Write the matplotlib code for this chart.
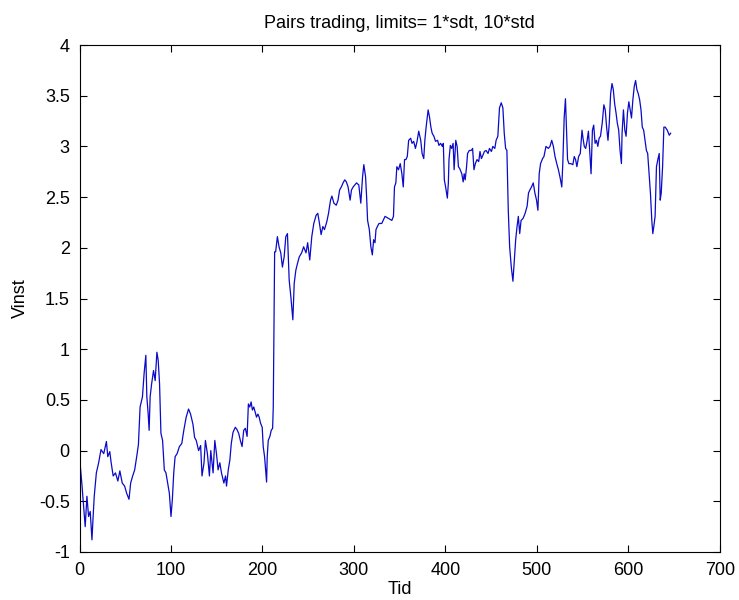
import matplotlib
matplotlib.use("Agg")
import matplotlib.pyplot as plt
from matplotlib.ticker import FormatStrFormatter

plt.rcParams['font.family'] = ['Liberation Sans', 'DejaVu Sans']
plt.rcParams['axes.unicode_minus'] = False

# values (Tid, Vinst)
tid = [0, 2.5, 6.2, 8.1, 9.9, 11.7, 13.6, 14.7, 16.1, 18.4, 20.9, 23.5, 26.5, 29.4, 30.9,
       33.1, 34.6, 36.8, 39.3, 41.9, 44.1, 46.7, 49.3, 51.5, 54.1, 55.9, 58.1, 60.3, 62.5,
       64.4, 66.2, 68.8, 70.6, 72.5, 73.6, 75, 76.1, 77.2, 78.7, 80.9, 82.7, 84.6, 86, 87.5,
       89, 90.8, 92.7, 94.5, 96.4, 98.2, 100, 101.5, 103, 104.5, 106.7, 109.2, 111.8, 114,
       116.6, 119.2, 121.4, 124, 125.8, 127.6, 130.2, 132.4, 133.9, 136.1, 137.6, 139.8, 142,
       143.5, 146, 147.9, 149.7, 151.5, 153.4, 155.2, 157.8, 159.6, 160.7, 162.6, 164.4,
       165.9, 167.8, 170.3, 172, 174, 175.8, 177.7, 179.5, 181.3, 183.2, 184.6, 186.1, 187.6,
       189, 190.5, 192, 193.5, 195, 196.4, 197.9, 199.7, 200.8, 202.3, 203.4, 204.5, 205.2,
       206.3, 208.1, 209.6, 211.1, 211.8, 212.6, 213.3,
       214.4, 216.3, 218.1, 220, 221.8, 223.7, 225.5, 227.3, 229.2, 231, 233.2, 234.7, 236.5,
       238.4, 240.2, 242.8, 245, 247.6, 249.4, 251.7, 253.9, 256.1, 258.6, 260.5, 262.3,
       264.1, 266, 267.8, 270.4, 272.2, 274.4, 275.9, 278.1, 280.7, 282.6, 284.3, 286.2,
       288.1, 289.9, 291.7, 293.6, 295.8, 297.3, 299.1, 300.9, 302.8, 305.3, 307.5, 309.4,
       310.8, 312.7, 313.8, 314.9, 316.8, 318.5, 320.1, 321.5, 323, 324.1, 325.6, 327.4,
       330.4, 334, 337.7, 341.4, 343.2, 344.3, 345.8, 346.9, 348.7, 350.6, 352.4, 353.9,
       355.3, 356.8, 358.3, 359.8, 362, 363.5, 365.3, 367.2, 369, 370.8, 373, 374.5, 376.3,
       377.5, 378.9, 381.1, 382.6, 384.1, 385.5, 387.4, 389.2, 391.4, 392.9, 394.7, 396.6,
       397.7, 398.8, 400.2, 402.1, 403.2, 403.9, 405.4, 406.9, 408.4, 409.5, 411.3, 412.8,
       414.2, 415.7, 417.9, 419.4, 420.5, 421.6, 423.1, 424.2, 426.1, 428.3, 429.7, 431.2,
       432.7, 434.5, 436.4, 437.8, 439.3, 440.8, 442.6, 444.4, 446.6, 448.1, 450.3, 451.8,
       454, 455.4, 457.3, 459.1, 461, 462.8, 464.3, 465.8, 467.2, 468.7, 470.2, 472, 473.8,
       475.3, 476.8, 478.3, 479.7, 481.2, 482.7, 484.9, 487.1, 489.3, 490.8, 492.3, 494.1,
       496, 497.8, 499.6, 501.1, 502.5, 504, 506.2, 507.7, 509.9, 512.5, 514.3, 516.2, 518,
       519.8, 521.7, 523.5, 525.4, 527.2, 528.3, 529.8, 531.2, 532, 533.5, 535, 537.1, 539.3,
       540.8, 542.3, 543.7, 545.6, 547.4, 549.3, 550.4, 551.8, 553.3, 554.8, 556.3, 557.7,
       559.2, 560.7, 562.1, 563.6, 565.1, 566.6, 568, 569.5, 571.4, 573.2, 574.7, 576.2,
       577.7, 579.1, 580.6, 582.1, 583.5, 585, 586.5, 587.9, 589.4, 590.9, 592.4, 593.1,
       594.6, 596.1, 597.5, 599, 600.5, 602, 603.4, 604.9, 606.4, 607.9, 609.3, 610.8, 612.3,
       613.8, 615.2, 616.7, 618.2, 619.7, 621.1, 622.6, 624.1, 625.6, 626.7, 627.8, 629.2,
       630.7, 632.2, 633.7, 634.8, 635.9, 637.4, 638.8, 640.3, 642.5, 644.7, 646.2]

vinst = [-0.06, -0.32, -0.75, -0.45, -0.65, -0.60, -0.88, -0.68, -0.45, -0.22, -0.12, 0.01,
         -0.03, 0.09, -0.06, -0.01, -0.12, -0.25, -0.22, -0.30, -0.20, -0.32, -0.35, -0.42,
         -0.48, -0.32, -0.25, -0.19, -0.06, 0.06, 0.43, 0.53, 0.76, 0.94, 0.53, 0.37, 0.20,
         0.53, 0.65, 0.79, 0.69, 0.97, 0.89, 0.66, 0.17, 0.10, -0.19, -0.22, -0.32, -0.42,
         -0.65, -0.48, -0.22, -0.06, -0.03, 0.04, 0.07, 0.20, 0.33, 0.41, 0.36, 0.26, 0.13,
         0.10, 0.0, 0.05, -0.25, -0.12, 0.10, -0.03, -0.25, 0.0, -0.22, 0.10, -0.03, -0.19,
         -0.12, -0.22, -0.32, -0.25, -0.35, -0.19, -0.09,
         0.07, 0.18, 0.23, 0.21, 0.17, 0.10, 0.04, 0.20, 0.22, 0.14, 0.46, 0.43, 0.48, 0.40,
         0.43, 0.38, 0.33, 0.36, 0.33, 0.27, 0.23, 0.04, -0.06, -0.19, -0.31, -0.06, 0.10,
         0.14, 0.20, 0.22, 0.43, 1.29, 1.96,
         1.96, 2.11, 2.01, 1.95, 1.81, 1.91, 2.11, 2.14, 1.68, 1.52, 1.29, 1.65, 1.78, 1.85,
         1.91, 1.95, 2.01, 1.95, 2.05, 1.88, 2.11, 2.24, 2.32, 2.34, 2.24, 2.13, 2.21, 2.18,
         2.26, 2.34, 2.47, 2.51, 2.44, 2.42, 2.47, 2.57, 2.60, 2.64, 2.67, 2.65, 2.60, 2.47,
         2.57, 2.60, 2.62, 2.64, 2.62, 2.44, 2.70, 2.82, 2.70, 2.51, 2.27, 2.18, 2.01, 1.93,
         2.08, 2.05, 2.18, 2.21, 2.24,
         2.24, 2.31, 2.29, 2.27, 2.31, 2.60, 2.64, 2.80, 2.77, 2.83, 2.73, 2.60, 2.87, 2.87,
         2.90, 3.06, 3.08, 3.03, 3.05, 2.98, 3.05, 3.15, 3.06, 2.93, 2.88, 3.06, 3.19, 3.36,
         3.29, 3.19, 3.13, 3.10, 3.05, 3.06, 3.01, 3.03, 3.00, 3.03, 2.67, 2.60, 2.49, 2.64,
         2.87, 3.01, 2.98, 3.03, 2.77, 3.06, 3.00, 2.80, 2.78, 2.73, 2.65, 2.73, 2.67, 2.80,
         2.93, 2.96, 2.96, 2.98, 2.77, 2.83, 2.87, 2.85, 2.95, 2.88, 2.91, 2.95, 2.96, 2.93,
         2.98, 2.95, 3.00, 2.98, 3.06, 3.10, 3.38, 3.43, 3.38, 3.13, 2.98, 2.96, 2.37, 2.01,
         1.81, 1.67, 1.88, 2.08, 2.21, 2.31, 2.14, 2.27, 2.29, 2.34, 2.41, 2.54, 2.57, 2.60,
         2.64, 2.54, 2.47, 2.37, 2.73, 2.83, 2.88, 2.90, 3.00, 2.98, 3.00, 3.06, 3.00, 2.90,
         2.83, 2.77, 2.69, 2.60, 2.83, 3.28, 3.47, 3.26, 2.87, 2.83, 2.83, 2.82, 2.90, 2.87,
         2.80, 2.90, 2.93, 3.16, 3.08, 3.00, 2.98, 3.05, 3.15, 2.96, 2.73, 3.16, 3.21, 3.03,
         3.06, 3.00, 3.08, 3.10, 3.23, 3.41, 3.36, 3.19, 3.06, 3.23, 3.52, 3.62, 3.56, 3.42,
         3.33, 3.23, 3.16, 2.96, 2.83, 3.13, 3.36, 3.16, 3.10, 3.33, 3.44, 3.36, 3.28, 3.46,
         3.59, 3.65, 3.56, 3.52, 3.46, 3.36, 3.19, 3.16, 3.06, 2.96, 2.93, 2.73, 2.54, 2.27,
         2.14, 2.21, 2.31, 2.80, 2.87, 2.93, 2.47, 2.54, 2.80, 3.19, 3.19, 3.16, 3.11, 3.13]

xticks = [0, 100, 200, 300, 400, 500, 600, 700]
yticks = [-1, -0.5, 0, 0.5, 1, 1.5, 2, 2.5, 3, 3.5, 4]

fig = plt.figure(figsize=(7.39, 6.0), dpi=100)
ax = fig.add_axes([0.1076, 0.08, 0.8665, 0.845])
ax.plot(tid, vinst, color='#0a0ac8', linewidth=0.9)

ax.set_xlim(0, 700)
ax.set_ylim(-1, 4)
ax.set_xticks(xticks)
ax.set_yticks(yticks)
ax.yaxis.set_major_formatter(FormatStrFormatter('%g'))
ax.tick_params(direction='in', length=5, width=0.8, top=True, right=True,
               labelsize=13, pad=7)
for s in ax.spines.values():
    s.set_linewidth(0.8)

ax.set_title('Pairs trading, limits= 1*sdt, 10*std', fontsize=13, pad=12)
ax.set_xlabel('Tid', fontsize=13, labelpad=2)
ax.set_ylabel('Vinst', fontsize=13, labelpad=7)

fig.savefig('out.png', dpi=100, facecolor='white')
